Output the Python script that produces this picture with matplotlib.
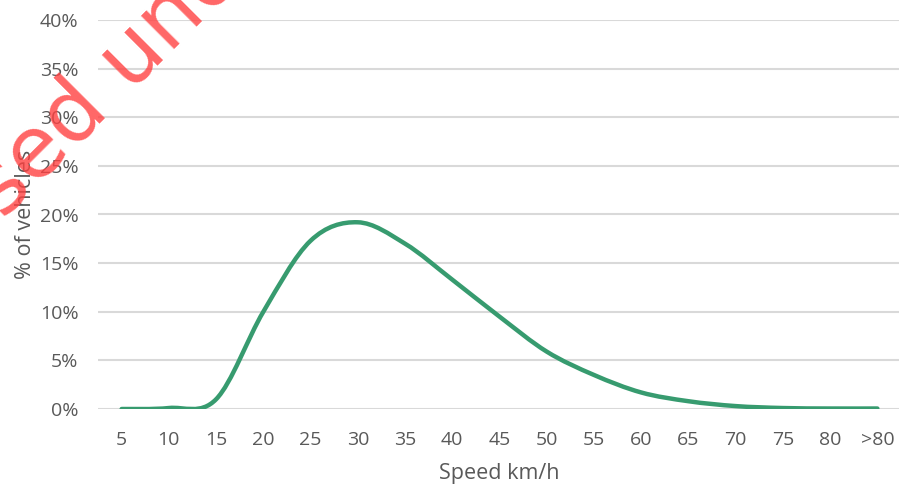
#!/usr/bin/env python3
# -*- coding: utf-8 -*-
import numpy as np
import matplotlib
matplotlib.use('Agg')
import matplotlib.pyplot as plt
from matplotlib.path import Path
from matplotlib.patches import PathPatch

# data
speed_labels = ['5', '10', '15', '20', '25', '30', '35', '40', '45', '50',
                '55', '60', '65', '70', '75', '80', '>80']
share = [0.0, 0.1, 1.0, 10.0, 17.3, 19.2, 17.0, 13.3, 9.5, 5.9,
         3.5, 1.7, 0.8, 0.3, 0.1, 0.05, 0.05]
y_ticks = [0, 5, 10, 15, 20, 25, 30, 35, 40]

GREEN = '#379b6f'
GREY_TXT = '#595959'
GRID = '#d9d9d9'
FONT = 'Open Sans'


def smooth_path(x, y, k=1/6):
    # excel-like smoothed line: cubic bezier segments with catmull-rom handles
    x = np.asarray(x, float)
    y = np.asarray(y, float)
    n = len(x)
    verts = [(x[0], y[0])]
    codes = [Path.MOVETO]
    for i in range(n - 1):
        p0 = (x[i-1], y[i-1]) if i > 0 else (x[i], y[i])
        p1 = (x[i], y[i])
        p2 = (x[i+1], y[i+1])
        p3 = (x[i+2], y[i+2]) if i + 2 < n else p2
        c1 = (p1[0] + (p2[0] - p0[0]) * k, p1[1] + (p2[1] - p0[1]) * k)
        c2 = (p2[0] - (p3[0] - p1[0]) * k, p2[1] - (p3[1] - p1[1]) * k)
        verts += [c1, c2, p2]
        codes += [Path.CURVE4] * 3
    return Path(verts, codes)


fig = plt.figure(figsize=(8.99, 4.87), dpi=100)
ax = fig.add_axes([98/899, 78/487, 803/899, 389/487])

xs = np.arange(len(speed_labels))
ax.add_patch(PathPatch(smooth_path(xs, share), fill=False, edgecolor=GREEN,
                       lw=3.2, capstyle='round', joinstyle='round', zorder=3))

ax.set_xlim(-0.5, len(speed_labels) - 0.5)
ax.set_ylim(0, 40)

#y axis
ax.set_yticks(y_ticks)
ax.set_yticklabels([f'{v}%' for v in y_ticks])
ax.yaxis.grid(True, color=GRID, lw=1.5)
ax.set_axisbelow(True)
ax.set_ylabel('% of vehicles', fontsize=15.5, color=GREY_TXT, family=FONT, labelpad=3)

#x axis
ax.set_xticks(xs)
ax.set_xticklabels(speed_labels)
ax.set_xlabel('Speed km/h', fontsize=15.5, color=GREY_TXT, family=FONT, labelpad=10.5)

for lab in ax.get_xticklabels() + ax.get_yticklabels():
    lab.set_family(FONT)
    lab.set_fontsize(14)
    lab.set_color(GREY_TXT)
ax.tick_params(axis='both', length=0)
ax.tick_params(axis='x', pad=15.5)
ax.tick_params(axis='y', pad=14)
for s in ax.spines.values():
    s.set_visible(False)

# watermark
fig.text(108/899, 1 - 82/487, 'sed und', fontsize=62, color='#ff4040', alpha=0.8,
         rotation=45, ha='center', va='center', family='DejaVu Sans', zorder=10)

fig.savefig('out.png', dpi=100)
